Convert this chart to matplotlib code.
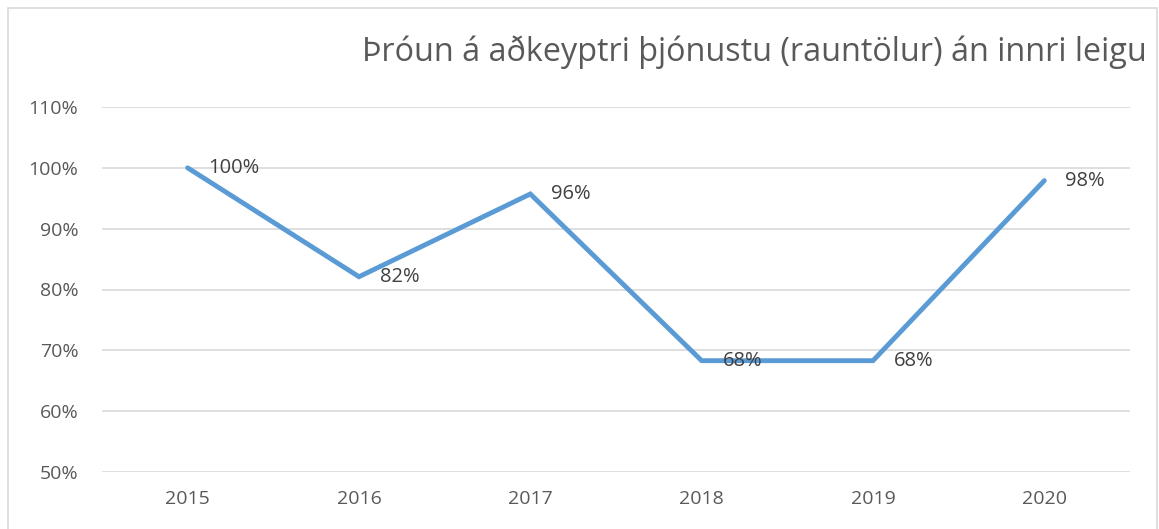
import matplotlib.pyplot as plt
from matplotlib.patches import Rectangle
from matplotlib.ticker import FuncFormatter

years = ["2015", "2016", "2017", "2018", "2019", "2020"]
values = [100.0, 82.1, 95.7, 68.3, 68.3, 97.9]
labels = ["100%", "82%", "96%", "68%", "68%", "98%"]

plt.rcParams['font.family'] = ['Open Sans', 'DejaVu Sans']

fig = plt.figure(figsize=(11.59, 5.29), dpi=100)
fig.patches.append(Rectangle((8 / 1159, -0.05), (1157 - 8) / 1159, 1 - 8 / 529 + 0.05,
                             transform=fig.transFigure, fill=False,
                             edgecolor="#d9d9d9", linewidth=1.2))

ax = fig.add_axes([102 / 1159, 1 - 472 / 529, (1130 - 102) / 1159, (472 - 107) / 529])
x = list(range(len(years)))
ax.plot(x, values, color="#5b9bd5", linewidth=3.5, solid_capstyle="round", solid_joinstyle="miter", zorder=3)

for xi, v, lab in zip(x, values, labels):
    ax.annotate(lab, (xi, v), xytext=(15, 0), textcoords="offset points",
                ha="left", va="center", fontsize=14.5, color="#404040", zorder=4)

ax.set_xlim(-0.5, len(years) - 0.5)
ax.set_ylim(50, 110)
ax.set_yticks(range(50, 111, 10))
ax.yaxis.set_major_formatter(FuncFormatter(lambda v, p: f"{v:.0f}%"))
ax.set_xticks(x)
ax.set_xticklabels(years)
ax.grid(axis="y", color="#d9d9d9", linewidth=1.2)
ax.set_axisbelow(True)
for s in ax.spines.values():
    s.set_visible(False)
ax.tick_params(length=0, labelsize=14, labelcolor="#595959")
ax.tick_params(axis="y", pad=17)
ax.tick_params(axis="x", pad=13)

fig.text(1147 / 1159, 1 - 52 / 529, "Þróun á aðkeyptri þjónustu (rauntölur) án innri leigu",
         ha="right", va="center", fontsize=23.3, color="#595959")

fig.savefig("out.png", dpi=100)
